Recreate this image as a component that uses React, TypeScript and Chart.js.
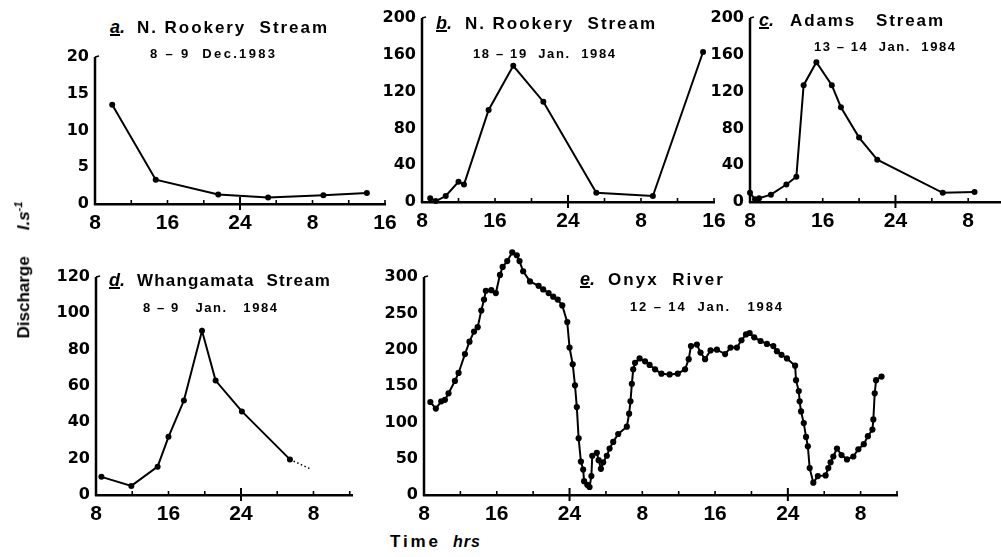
import React, { useEffect, useLayoutEffect, useRef } from "react";
import { Chart, registerables } from "chart.js";
Chart.register(...registerables);

// ---------------- data (hours from 0:00 of first day; flow in l/s) ----------------
const rookeryDecHours = [9.9, 14.7, 21.6, 27.1, 33.2, 38.0];
const rookeryDecFlow = [13.5, 3.3, 1.3, 0.9, 1.2, 1.5];

const rookeryJanHours = [8.9, 9.5, 10.6, 12.0, 12.6, 15.3, 18.0, 21.3, 27.1, 33.3, 38.8];
const rookeryJanFlow = [4, 1, 6.5, 22, 19, 100, 148, 109, 10, 6.5, 163];

const adamsHours = [8.0, 8.55, 9.0, 10.3, 12.0, 13.1, 13.9, 15.3, 17.0, 18.0, 20.0, 22.0, 29.2, 32.7];
const adamsFlow = [10, 3, 4, 8, 19, 27.5, 127, 152, 127, 103, 70, 46, 10, 11];

const whangHours = [8.6, 11.9, 14.8, 16.0, 17.7, 19.7, 21.2, 24.1, 29.4];
const whangFlow = [10, 5, 15.6, 32, 52, 90.4, 63, 46, 19.6];
const whangTailHours = [29.4, 31.8];
const whangTailFlow = [19.6, 14];

const onyxHours = [8.7, 9.3, 9.9, 10.3, 10.7, 11.4, 11.8, 12.5, 13.0, 13.5, 13.9, 14.3, 14.6, 14.8, 15.4, 15.9,
  16.35, 16.65, 17.15, 17.7, 18.2, 18.5, 18.9, 19.65, 20.6, 21.1, 21.7, 22.2, 22.7, 23.2, 23.75, 24.0, 24.35,
  24.6, 24.8, 25.0, 25.25, 25.5, 25.6, 25.95, 26.2, 26.4, 26.5, 27.0, 27.2, 27.45, 27.7, 28.1, 28.4, 28.8,
  29.35, 30.3, 30.55, 30.7, 30.85, 31.0, 31.2, 31.7, 32.3, 32.8, 33.4, 34.1, 35.0, 35.9, 36.7, 37.1, 37.35,
  38.0, 38.4, 38.9, 39.5, 40.2, 41.1, 41.7, 42.4, 42.9, 43.4, 43.8, 44.3, 45.0, 45.7, 46.4, 46.8, 47.3, 47.9,
  48.8, 48.9, 49.2, 49.3, 49.45, 49.75, 50.0, 50.2, 50.4, 50.8, 51.3, 52.15, 52.45, 52.7, 53.0, 53.4, 53.9,
  54.5, 55.2, 55.75, 56.35, 56.8, 57.3, 57.4, 57.55, 57.7, 58.3];
const onyxFlow = [128, 119, 129, 131, 140, 157, 168, 194, 211, 225, 231, 254, 269, 281, 282, 278,
  303, 314, 322, 334, 330, 322, 308, 294, 288, 283, 278, 273, 269, 261, 238, 203, 180,
  151, 121, 78, 46, 35, 19, 14, 11, 26, 54, 58, 48, 36, 45, 54, 64, 73,
  84, 94, 112, 129, 153, 173, 182, 188, 184, 179, 173, 167, 166, 167, 173, 187, 205,
  207, 196, 187, 199, 200, 194, 203, 203, 213, 221, 223, 217, 212, 208, 205, 198, 193, 188,
  178, 158, 143, 129, 115, 99, 80, 67, 37, 17, 26, 27, 37, 45, 53, 64, 55,
  49, 53, 63, 70, 81, 90, 104, 140, 158, 163];

const hourTicksAB = [8, 16, 24, 32, 40];
const hourTicksC = [8, 16, 24, 32];
const hourTicksD = [8, 16, 24, 32];
const hourTicksE = [8, 16, 24, 32, 40, 48, 56];
const flowTicksA = [0, 5, 10, 15, 20];
const flowTicksBC = [0, 40, 80, 120, 160, 200];
const flowTicksD = [0, 20, 40, 60, 80, 100, 120];
const flowTicksE = [0, 50, 100, 150, 200, 250, 300];

// ---------------- layout / style ----------------
const YW = 70, XH = 36, PR = 25, PT = 20;
const SANS = "'Liberation Sans', Arial, Helvetica, sans-serif";

type Series = { x: number[]; y: number[]; dotted?: boolean; r?: number };
type Panel = {
  id: string;
  area: { left: number; top: number; right: number; bottom: number };
  xMax: number; yMax: number; axisTop: number;
  xTicks: number[]; yTicks: number[];
  midnight: number[];
  series: Series[];
};

// area.top is the pixel of yMax; the drawn y-axis line stops at axisTop
const PANELS: Panel[] = [
  { id: "a", area: { left: 95, top: 57, right: 385, bottom: 204 }, xMax: 40, yMax: 20, axisTop: 20,
    xTicks: hourTicksAB, yTicks: flowTicksA, midnight: [24],
    series: [{ x: rookeryDecHours, y: rookeryDecFlow }] },
  { id: "b", area: { left: 422, top: 18, right: 714, bottom: 202 }, xMax: 40, yMax: 200, axisTop: 200,
    xTicks: hourTicksAB, yTicks: flowTicksBC, midnight: [24],
    series: [{ x: rookeryJanHours, y: rookeryJanFlow }] },
  { id: "c", area: { left: 750, top: 18, right: 1000, bottom: 202 }, xMax: 35.5, yMax: 200, axisTop: 200,
    xTicks: hourTicksC, yTicks: flowTicksBC, midnight: [24],
    series: [{ x: adamsHours, y: adamsFlow }] },
  { id: "d", area: { left: 96, top: 277, right: 352, bottom: 495 }, xMax: 36.25, yMax: 120, axisTop: 120,
    xTicks: hourTicksD, yTicks: flowTicksD, midnight: [24],
    series: [{ x: whangHours, y: whangFlow }, { x: whangTailHours, y: whangTailFlow, dotted: true }] },
  { id: "e", area: { left: 424, top: 248, right: 897, bottom: 495 }, xMax: 60, yMax: 340, axisTop: 300,
    xTicks: hourTicksE, yTicks: flowTicksE, midnight: [24, 48],
    series: [{ x: onyxHours, y: onyxFlow, r: 3.1 }] },
];

const hourLabel = (v: number) => {
  const m = v % 24;
  return String(m === 0 ? 24 : m);
};

const axesAndTicks = {
  id: "axesAndTicks",
  afterDraw(chart: any, _args: any, opts: any) {
    const { ctx, scales, chartArea } = chart;
    const x = scales.x;
    const y = scales.y;
    const base = chartArea.bottom;
    const left = chartArea.left;
    const top = y.getPixelForValue(opts.axisTop);
    ctx.save();
    ctx.strokeStyle = "#000";
    // y axis line
    ctx.lineWidth = 2.5;
    ctx.beginPath();
    ctx.moveTo(left, base + 1);
    ctx.lineTo(left, top);
    ctx.stroke();
    // small hook at top of y axis
    ctx.lineWidth = 1.6;
    ctx.beginPath();
    ctx.moveTo(left, top);
    ctx.lineTo(left + 4, top - 1);
    ctx.stroke();
    // minor ticks, pointing up
    for (const v of opts.minor || []) {
      const px = x.getPixelForValue(v);
      ctx.beginPath();
      ctx.moveTo(px, base);
      ctx.lineTo(px, base - 4);
      ctx.stroke();
    }
    // midnight ticks, crossing the axis
    ctx.lineWidth = 2;
    for (const v of opts.major || []) {
      const px = x.getPixelForValue(v);
      ctx.beginPath();
      ctx.moveTo(px, base + 6);
      ctx.lineTo(px, base - 7);
      ctx.stroke();
    }
    ctx.restore();
  },
};

function PanelChart({ p }: { p: Panel }) {
  const ref = useRef<HTMLCanvasElement>(null);
  const W = p.area.right - p.area.left + YW + PR;
  const H = p.area.bottom - p.area.top + PT + XH;
  useEffect(() => {
    const minor: number[] = [];
    for (let v = 12; v <= p.xMax + 0.01; v += 4) if (!p.midnight.includes(v)) minor.push(v);
    const chart = new Chart(ref.current as HTMLCanvasElement, {
      type: "line",
      data: {
        datasets: p.series.map((s) => ({
          data: s.x.map((h, i) => ({ x: h, y: s.y[i] })),
          borderColor: "#000",
          borderWidth: s.dotted ? 1.5 : 2,
          borderDash: s.dotted ? [1.5, 2.5] : [],
          pointRadius: s.dotted ? 0 : s.r ?? 3,
          pointBackgroundColor: "#000",
          pointBorderWidth: 0,
          tension: 0,
          clip: false as any,
        })),
      },
      options: {
        animation: false,
        responsive: false,
        devicePixelRatio: 1,
        events: [],
        layout: { padding: { top: PT, right: PR, left: 0, bottom: 0 } },
        plugins: {
          legend: { display: false },
          tooltip: { enabled: false },
          axesAndTicks: { minor, major: p.midnight, axisTop: p.axisTop },
        } as any,
        scales: {
          x: {
            type: "linear",
            min: 8,
            max: p.xMax,
            afterBuildTicks: (s: any) => { s.ticks = p.xTicks.map((v) => ({ value: v })); },
            afterFit: (s: any) => { s.height = XH; },
            grid: { display: false, drawTicks: false },
            border: { display: true, color: "#000", width: 2.5 },
            ticks: {
              color: "#000",
              padding: 7,
              autoSkip: false,
              maxRotation: 0,
              font: { family: "'Liberation Sans Narrow', 'Liberation Sans', Arial, sans-serif", size: 21, weight: "bold" },
              callback: (v: any) => hourLabel(Number(v)),
            },
          },
          y: {
            type: "linear",
            min: 0,
            max: p.yMax,
            afterBuildTicks: (s: any) => { s.ticks = p.yTicks.map((v) => ({ value: v })); },
            afterFit: (s: any) => { s.width = YW; },
            grid: { display: false, drawTicks: false },
            border: { display: false },
            ticks: {
              color: "#000",
              padding: 6,
              font: { family: "'DejaVu Sans', sans-serif", size: 16, weight: "bold" },
            },
          },
        },
      } as any,
      plugins: [axesAndTicks],
    });
    return () => chart.destroy();
  }, []);
  return (
    <canvas
      ref={ref}
      width={W}
      height={H}
      style={{ position: "absolute", left: p.area.left - YW, top: p.area.top - PT, width: W, height: H }}
    />
  );
}

function Label(props: { text: string; left: number; cy: number; width?: number; size: number; italic?: boolean }) {
  const { text, left, cy, width, size, italic } = props;
  const ref = useRef<HTMLDivElement>(null);
  useLayoutEffect(() => {
    const el = ref.current;
    if (!el || !width) return;
    el.style.letterSpacing = "0px";
    const w = el.getBoundingClientRect().width;
    const n = Array.from(text).length;
    el.style.letterSpacing = `${(width - w) / Math.max(1, n - 1)}px`;
  }, []);
  return (
    <div
      ref={ref}
      style={{
        position: "absolute", left, top: cy - size * 0.5, fontSize: size, lineHeight: `${size}px`,
        fontWeight: "bold", fontStyle: italic ? "italic" : "normal", fontFamily: SANS,
        whiteSpace: "pre", color: "#000",
      }}
    >
      {text}
    </div>
  );
}

function Letter({ ch, left, cy }: { ch: string; left: number; cy: number }) {
  return (
    <div style={{ position: "absolute", left, top: cy - 9, fontSize: 18, lineHeight: "18px", fontWeight: "bold",
      fontStyle: "italic", fontFamily: SANS, color: "#000" }}>
      <span style={{ textDecoration: "underline", textDecorationThickness: "2px" }}>{ch}</span>.
    </div>
  );
}

const TITLES = [
  { ch: "a", lx: 110, cy: 27, name: "N. Rookery  Stream", nx: 137, nw: 190, sub: "8 \u2013 9  Dec.1983", sx: 150, sw: 125, scy: 53 },
  { ch: "b", lx: 436, cy: 23, name: "N. Rookery  Stream", nx: 465, nw: 190, sub: "18 \u2013 19  Jan.  1984", sx: 473, sw: 142, scy: 53 },
  { ch: "c", lx: 759, cy: 20, name: "Adams   Stream", nx: 790, nw: 153, sub: "13 \u2013 14  Jan.  1984", sx: 814, sw: 141, scy: 46 },
  { ch: "d", lx: 109, cy: 280, name: "Whangamata  Stream", nx: 137, nw: 193, sub: "8 \u2013 9   Jan.   1984", sx: 143, sw: 134, scy: 307 },
  { ch: "e", lx: 580, cy: 279, name: "Onyx  River", nx: 608, nw: 115, sub: "12 \u2013 14  Jan.   1984", sx: 630, sw: 152, scy: 306 },
];

export default function App() {
  return (
    <div style={{ position: "fixed", left: 0, top: 0, width: 1001, height: 557, overflow: "hidden", background: "#fff" }}>
      {PANELS.map((p) => <PanelChart key={p.id} p={p} />)}
      {TITLES.map((t) => (
        <React.Fragment key={t.ch}>
          <Letter ch={t.ch} left={t.lx} cy={t.cy} />
          <Label text={t.name} left={t.nx} cy={t.cy} width={t.nw} size={17} />
          <Label text={t.sub} left={t.sx} cy={t.scy} width={t.sw} size={13} />
        </React.Fragment>
      ))}
      <div
        style={{
          position: "absolute", left: 21, top: 270, transform: "translate(-50%, -50%) rotate(-90deg)",
          whiteSpace: "nowrap", fontFamily: SANS, fontWeight: "bold", fontSize: 17, lineHeight: "17px", color: "#000",
        }}
      >
        Discharge
        <span style={{ fontStyle: "italic", marginLeft: 26 }}>
          l.s<sup style={{ fontSize: 11 }}>-1</sup>
        </span>
      </div>
      <Label text="Time" left={390} cy={541} width={48} size={17} />
      <Label text="hrs" left={453} cy={542} width={27} size={16} italic />
    </div>
  );
}
